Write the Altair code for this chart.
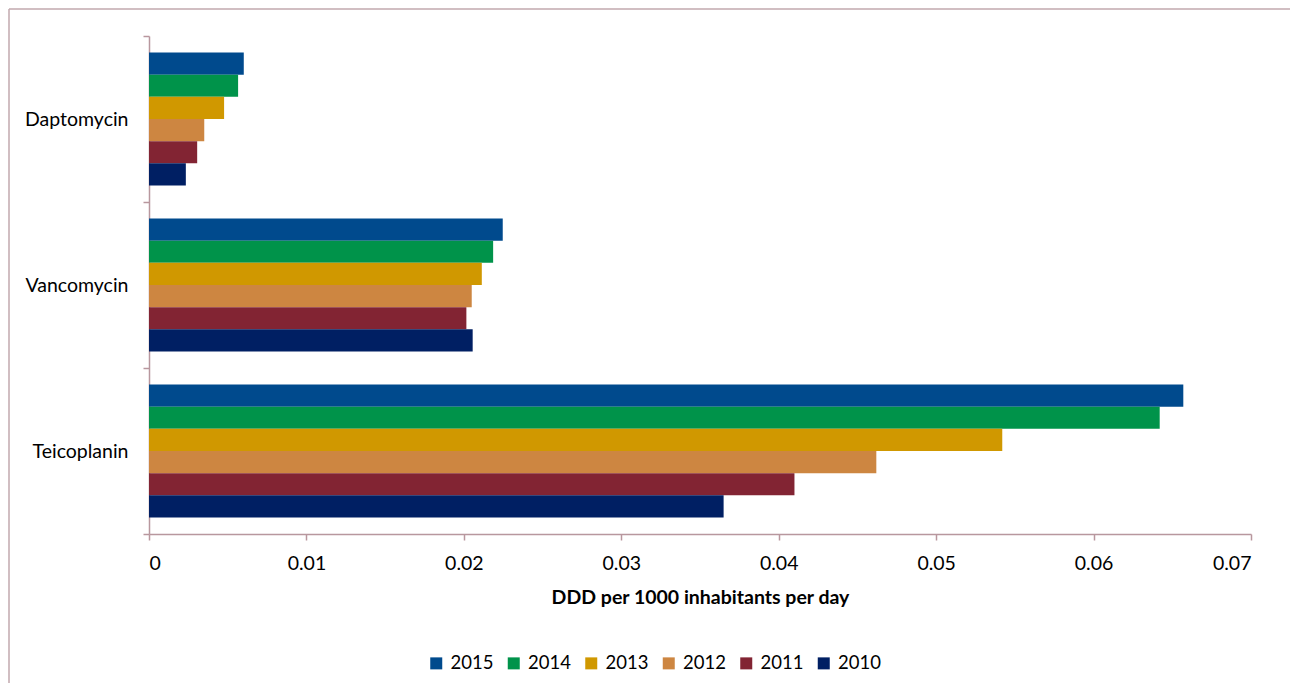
import altair as alt
import pandas as pd

# ---- data ----
drugs = ["Daptomycin", "Vancomycin", "Teicoplanin"]
years = ["2015", "2014", "2013", "2012", "2011", "2010"]
daptomycin = [0.00602, 0.00566, 0.00477, 0.00351, 0.00306, 0.00234]
vancomycin = [0.02247, 0.02186, 0.02114, 0.02050, 0.02016, 0.02056]
teicoplanin = [0.06570, 0.06420, 0.05420, 0.04620, 0.04100, 0.03650]
year_colors = ["#004A8D", "#00934A", "#D09800", "#CD8641", "#822433", "#001F63"]
x_ticks = [0, 0.01, 0.02, 0.03, 0.04, 0.05, 0.06, 0.07]

rows = []
for drug, vals in zip(drugs, [daptomycin, vancomycin, teicoplanin]):
    for yr, v in zip(years, vals):
        rows.append({"drug": drug, "year": yr, "value": v})
df = pd.DataFrame(rows)

FONT = "Lato"
AXIS_COLOR = "#B8979E"
FRAME_COLOR = "#C2A9AE"

bars = alt.Chart(df).mark_bar().encode(
    x=alt.X(
        "value:Q",
        scale=alt.Scale(domain=[0, 0.07], nice=False, zero=True),
        axis=alt.Axis(
            values=x_ticks,
            format=".2~f",
            grid=False,
            title="DDD per 1000 inhabitants per day",
            titleFontWeight="bold",
            titleFontSize=19.5,
            titleColor="#000000",
            titlePadding=16,
            labelFontSize=19.5,
            labelColor="#000000",
            labelPadding=14,
            domainColor=AXIS_COLOR,
            domainWidth=1.5,
            tickColor=AXIS_COLOR,
            tickWidth=1.5,
            tickSize=6,
        ),
    ),
    y=alt.Y(
        "drug:N",
        sort=drugs,
        scale=alt.Scale(paddingInner=0, paddingOuter=0),
        axis=alt.Axis(
            title=None,
            tickBand="extent",
            grid=False,
            labelFontSize=19.5,
            labelColor="#000000",
            labelPadding=15,
            domainColor=AXIS_COLOR,
            domainWidth=1.5,
            tickColor=AXIS_COLOR,
            tickWidth=1.5,
            tickSize=6,
        ),
    ),
    yOffset=alt.YOffset(
        "year:N", sort=years, scale=alt.Scale(paddingInner=0, paddingOuter=0.75)
    ),
    color=alt.Color(
        "year:N",
        sort=years,
        scale=alt.Scale(domain=years, range=year_colors),
        legend=alt.Legend(
            title=None,
            orient="none",
            legendX=278,
            legendY=618,
            direction="horizontal",
            symbolType="square",
            symbolSize=144,
            symbolStrokeWidth=0,
            labelFontSize=18.5,
            labelColor="#000000",
            labelOffset=5,
            columnPadding=10.5,
        ),
    ),
)

frame_df = pd.DataFrame({"k": [0]})
frame_top = alt.Chart(frame_df).mark_rule(color=FRAME_COLOR, strokeWidth=1.5).encode(
    x=alt.value(-140), x2=alt.value(1300), y=alt.value(-27)
)
frame_left = alt.Chart(frame_df).mark_rule(color=FRAME_COLOR, strokeWidth=1.5).encode(
    x=alt.value(-140), y=alt.value(-27), y2=alt.value(800)
)

chart = (
    alt.layer(bars, frame_top, frame_left)
    .properties(
        width=1102,
        height=498,
        autosize=alt.AutoSizeParams(type="none"),
        padding={"left": 141, "top": 28, "right": 39, "bottom": 149},
        view=alt.ViewBackground(stroke="transparent", strokeWidth=0),
    )
    .configure_view(stroke="transparent", strokeWidth=0)
    .configure_axis(grid=False, gridOpacity=0)
    .configure(font=FONT, style={"cell": {"stroke": "transparent", "strokeWidth": 0}})
)

chart.save("out.html", embed_options={"renderer": "svg", "actions": False})
